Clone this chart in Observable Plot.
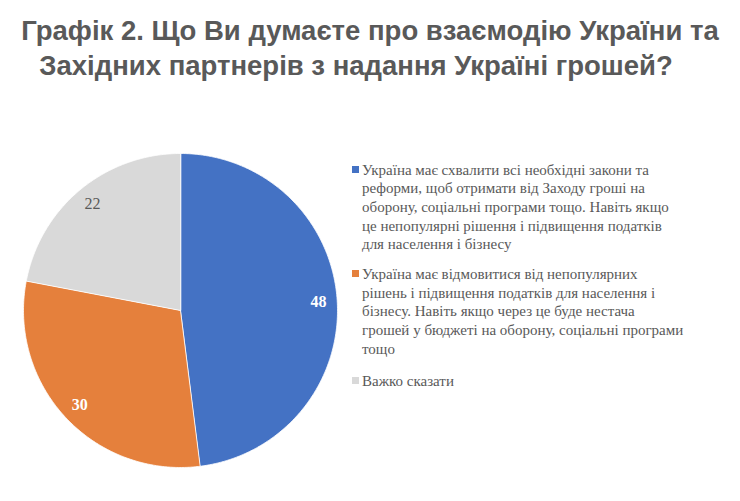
<!DOCTYPE html>
<html>
<head>
<meta charset="utf-8">
<script src="https://cdn.jsdelivr.net/npm/d3@7"></script>
<script src="https://cdn.jsdelivr.net/npm/@observablehq/plot@0.6"></script>
<style>
  html, body { margin: 0; padding: 0; background: #fff; }
  #page { position: relative; width: 740px; height: 501px; overflow: hidden; }
  #title { position: absolute; left: 0; top: 13px; width: 740px; text-align: center;
    font-family: "Liberation Sans", Arial, sans-serif; font-weight: bold; font-size: 27.5px;
    color: #595959; line-height: 35px; white-space: nowrap; }
  #title span { display: block; }
  #title span.l2 { padding-right: 28px; }
  #chart { position: absolute; left: 0; top: 145px; }
  #legend { position: absolute; left: 350px; top: 160.5px; width: 385px;
    font-family: "Liberation Serif", "Times New Roman", serif; font-size: 15px;
    color: #595959; line-height: 18.7px; }
  .item { position: relative; padding-left: 12px; white-space: pre-line; margin-bottom: 11px; }
  .item:nth-child(2) { margin-bottom: 13px; }
  .sw { position: absolute; left: 2px; top: 5px; width: 7px; height: 7px; }
</style>
</head>
<body>
<div id="page">
  <div id="title"><span>Графік 2. Що Ви думаєте про взаємодію України та</span><span class="l2">Західних партнерів з надання Україні грошей?</span></div>
  <div id="chart"></div>
  <div id="legend"></div>
</div>
<script>
const categories = [
  "Україна має схвалити всі необхідні закони та\nреформи, щоб отримати від Заходу гроші на\nоборону, соціальні програми тощо. Навіть якщо\nце непопулярні рішення і підвищення податків\nдля населення і бізнесу",
  "Україна має відмовитися від непопулярних\nрішень і підвищення податків для населення і\nбізнесу. Навіть якщо через це буде нестача\nгрошей у бюджеті на оборону, соціальні програми\nтощо",
  "Важко сказати"
];
const values = [48, 30, 22];
const colors = ["#4472C4", "#E5803C", "#D9D9D9"];
const labelColors = ["#ffffff", "#ffffff", "#595959"];
const labelBold = [true, true, false];

const slices = categories.map((c, i) => ({key: i, name: c, value: values[i]}));
const arcs = d3.pie().sort(null).value(d => d.value)(slices);

// polygon outline points for each slice (angle clockwise from 12 o'clock)
const pts = [];
arcs.forEach(a => {
  pts.push({key: a.data.key, x: 0, y: 0});
  const n = Math.max(2, Math.ceil((a.endAngle - a.startAngle) / 0.01));
  for (let k = 0; k <= n; k++) {
    const t = a.startAngle + (a.endAngle - a.startAngle) * k / n;
    pts.push({key: a.data.key, x: Math.sin(t), y: Math.cos(t)});
  }
});
const labels = arcs.map(a => {
  const m = (a.startAngle + a.endAngle) / 2;
  return {key: a.data.key, text: String(a.data.value), x: 0.88 * Math.sin(m), y: 0.88 * Math.cos(m)};
});

const R = 157, cx = 180, cy = 165;
const font = "Liberation Serif, Times New Roman, serif";
const plot = Plot.plot({
  width: 360, height: 330,
  margin: 0,
  x: {domain: [-1, 1], range: [cx - R, cx + R], axis: null},
  y: {domain: [-1, 1], range: [cy + R, cy - R], axis: null},
  marks: [
    Plot.line(pts, {x: "x", y: "y", z: "key", fill: d => colors[d.key], stroke: "#ffffff", strokeWidth: 0.8, curve: "linear-closed"}),
    Plot.text(labels.filter(d => labelBold[d.key]), {x: "x", y: "y", text: "text", fill: d => labelColors[d.key], fontWeight: "bold",
      fontSize: 16, fontFamily: font}),
    Plot.text(labels.filter(d => !labelBold[d.key]), {x: "x", y: "y", text: "text", fill: d => labelColors[d.key], fontWeight: "normal",
      fontSize: 16, fontFamily: font})
  ]
});
document.getElementById("chart").appendChild(plot);

const legend = document.getElementById("legend");
slices.forEach((s, i) => {
  const div = document.createElement("div");
  div.className = "item";
  const sw = document.createElement("span");
  sw.className = "sw";
  sw.style.background = colors[i];
  div.appendChild(sw);
  div.appendChild(document.createTextNode(s.name));
  legend.appendChild(div);
});
</script>
</body>
</html>
